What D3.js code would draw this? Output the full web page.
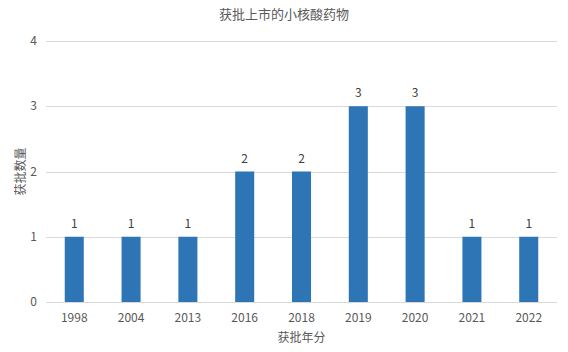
<!DOCTYPE html>
<html lang="zh">
<head>
<meta charset="UTF-8">
<title>获批上市的小核酸药物</title>
<script src="https://d3js.org/d3.v7.min.js"></script>
<style>
    body { margin: 0; padding: 0; background: #fff; }
    svg { display: block; font-family: "Noto Sans CJK SC", "Noto Sans", sans-serif; }
    .grid line { stroke: #d9d9d9; stroke-width: 1; shape-rendering: crispEdges; }
    .tick-label { font-size: 12px; fill: #595959; }
    .bar { fill: #2e75b6; }
    .value { font-size: 12px; fill: #404040; text-anchor: middle; }
</style>
</head>
<body>
<svg width="568" height="352"></svg>
<script>
    const years = ["1998", "2004", "2013", "2016", "2018", "2019", "2020", "2021", "2022"];
    const counts = [1, 1, 1, 2, 2, 3, 3, 1, 1];
    const yTicks = [0, 1, 2, 3, 4];

    const data = years.map((y, i) => ({ year: y, count: counts[i] }));

    const margin = { top: 41, right: 11, bottom: 50, left: 46 };
    const width = 568 - margin.left - margin.right;
    const height = 352 - margin.top - margin.bottom - 0;
    const plotH = 302 - margin.top;

    const svg = d3.select("svg");
    const g = svg.append("g").attr("transform", `translate(${margin.left},${margin.top})`);

    const x = d3.scaleBand().domain(years).range([0, width]).paddingInner(0.665).paddingOuter(0.33);
    const y = d3.scaleLinear().domain([0, 4]).range([plotH, 0]);

    // gridlines
    g.append("g").attr("class", "grid")
        .selectAll("line").data(yTicks).enter().append("line")
        .attr("x1", 0).attr("x2", width)
        .attr("y1", d => Math.round(y(d)) + 0.5).attr("y2", d => Math.round(y(d)) + 0.5);

    // y tick labels
    g.selectAll(".ytick").data(yTicks).enter().append("text")
        .attr("class", "tick-label")
        .attr("x", -9).attr("y", d => y(d)).attr("dy", "0.35em")
        .attr("text-anchor", "end")
        .text(d => d);

    // bars
    g.selectAll(".bar").data(data).enter().append("rect")
        .attr("class", "bar")
        .attr("x", d => x(d.year))
        .attr("y", d => y(d.count))
        .attr("width", x.bandwidth())
        .attr("height", d => plotH - y(d.count));

    // value labels
    g.selectAll(".value").data(data).enter().append("text")
        .attr("class", "value")
        .attr("x", d => x(d.year) + x.bandwidth() / 2)
        .attr("y", d => y(d.count) - 9)
        .text(d => d.count);

    // x tick labels
    g.selectAll(".xtick").data(years).enter().append("text")
        .attr("class", "tick-label")
        .attr("x", d => x(d) + x.bandwidth() / 2)
        .attr("y", plotH + 20)
        .attr("text-anchor", "middle")
        .text(d => d);

    // titles
    svg.append("text")
        .attr("x", 284).attr("y", 19)
        .attr("text-anchor", "middle")
        .style("font-size", "13px").style("fill", "#595959")
        .text("获批上市的小核酸药物");

    svg.append("text")
        .attr("x", margin.left + width / 2).attr("y", 342)
        .attr("text-anchor", "middle")
        .style("font-size", "12px").style("fill", "#595959")
        .text("获批年分");

    svg.append("text")
        .attr("transform", `translate(25,${margin.top + plotH / 2}) rotate(-90)`)
        .attr("text-anchor", "middle")
        .style("font-size", "12px").style("fill", "#595959")
        .text("获批数量");
</script>
</body>
</html>
